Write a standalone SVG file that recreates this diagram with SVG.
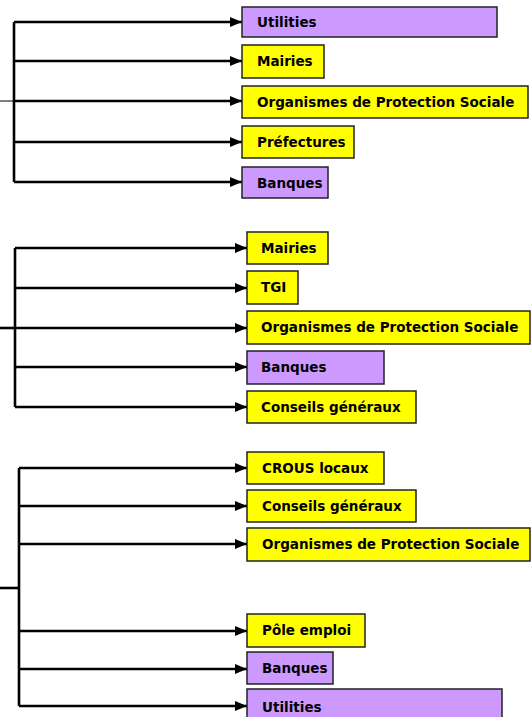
<svg xmlns="http://www.w3.org/2000/svg" width="531" height="717" viewBox="0 0 531 717">
<defs>
<marker id="ah" viewBox="0 0 12 10" refX="12" refY="5" markerWidth="12" markerHeight="10" markerUnits="userSpaceOnUse" orient="auto">
<path d="M0,0 L12,5 L0,10 Z" fill="#000"/>
</marker>
<style>
.c{stroke:#000;stroke-width:2.6;fill:none}
.a{stroke:#000;stroke-width:2.6;fill:none;marker-end:url(#ah)}
.y{fill:#FFFF00;stroke:#222;stroke-width:1.5}
.p{fill:#CC99FF;stroke:#222;stroke-width:1.5}
text{font-family:"DejaVu Sans","Liberation Sans",sans-serif;font-weight:bold;font-size:13.5px;fill:#000}
</style>
</defs>
<g id="connectors">
<line x1="0" y1="101" x2="14" y2="101" stroke="#000" stroke-width="1"/>
<line class="c" x1="14" y1="22" x2="14" y2="182"/>
<line class="a" x1="14" y1="22" x2="242" y2="22"/>
<line class="a" x1="14" y1="61" x2="242" y2="61"/>
<line class="a" x1="14" y1="101" x2="242" y2="101"/>
<line class="a" x1="14" y1="142" x2="242" y2="142"/>
<line class="a" x1="14" y1="182" x2="242" y2="182"/>
<line class="c" x1="0" y1="328" x2="15" y2="328"/>
<line class="c" x1="15" y1="248" x2="15" y2="407"/>
<line class="a" x1="15" y1="248" x2="247" y2="248"/>
<line class="a" x1="15" y1="288" x2="247" y2="288"/>
<line class="a" x1="15" y1="328" x2="247" y2="328"/>
<line class="a" x1="15" y1="367" x2="247" y2="367"/>
<line class="a" x1="15" y1="407" x2="247" y2="407"/>
<line class="c" x1="0" y1="588" x2="19" y2="588"/>
<line class="c" x1="19" y1="468" x2="19" y2="706"/>
<line class="a" x1="19" y1="468" x2="247" y2="468"/>
<line class="a" x1="19" y1="506" x2="247" y2="506"/>
<line class="a" x1="19" y1="544" x2="247" y2="544"/>
<line class="a" x1="19" y1="631" x2="247" y2="631"/>
<line class="a" x1="19" y1="669" x2="247" y2="669"/>
<line class="a" x1="19" y1="706" x2="247" y2="706"/>
</g>
<g id="n1"><rect class="p" x="242" y="7" width="255" height="30"/><text x="257" y="27">Utilities</text></g>
<g id="n2"><rect class="y" x="242" y="45" width="82" height="33"/><text x="257" y="66">Mairies</text></g>
<g id="n3"><rect class="y" x="242" y="86" width="286" height="32"/><text x="257" y="107">Organismes de Protection Sociale</text></g>
<g id="n4"><rect class="y" x="242" y="126" width="112" height="32"/><text x="257" y="147">Préfectures</text></g>
<g id="n5"><rect class="p" x="242" y="167" width="86" height="31"/><text x="257" y="188">Banques</text></g>
<g id="n6"><rect class="y" x="247" y="232" width="81" height="32"/><text x="261" y="253">Mairies</text></g>
<g id="n7"><rect class="y" x="247" y="271" width="51" height="33"/><text x="261" y="292">TGI</text></g>
<g id="n8"><rect class="y" x="247" y="311" width="283" height="33"/><text x="261" y="332">Organismes de Protection Sociale</text></g>
<g id="n9"><rect class="p" x="247" y="351" width="137" height="33"/><text x="261" y="372">Banques</text></g>
<g id="n10"><rect class="y" x="247" y="391" width="169" height="32"/><text x="261" y="412">Conseils généraux</text></g>
<g id="n11"><rect class="y" x="247" y="452" width="137" height="32"/><text x="262" y="473">CROUS locaux</text></g>
<g id="n12"><rect class="y" x="247" y="490" width="169" height="32"/><text x="262" y="511">Conseils généraux</text></g>
<g id="n13"><rect class="y" x="247" y="528" width="283" height="33"/><text x="262" y="549">Organismes de Protection Sociale</text></g>
<g id="n14"><rect class="y" x="247" y="614" width="118" height="33"/><text x="262" y="635">Pôle emploi</text></g>
<g id="n15"><rect class="p" x="247" y="652" width="86" height="32"/><text x="262" y="673">Banques</text></g>
<g id="n16"><rect class="p" x="247" y="689" width="255" height="40"/><text x="262" y="712">Utilities</text></g>
</svg>
